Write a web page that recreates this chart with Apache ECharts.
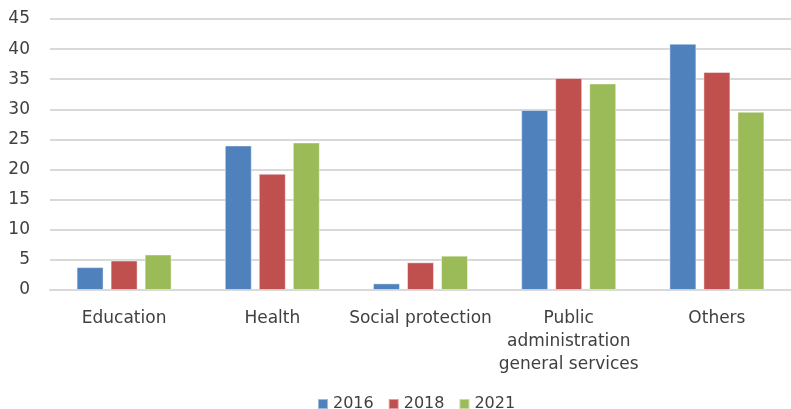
<!DOCTYPE html>
<html>
<head>
<meta charset="utf-8">
<script src="https://cdn.jsdelivr.net/npm/echarts@6/dist/echarts.min.js"></script>
<style>
  html, body { margin: 0; padding: 0; background: #fff; }
  #chart { width: 791px; height: 409px; }
</style>
</head>
<body>
<div id="chart"></div>
<script>
// Spending shares by function (%)
const categories = ['Education', 'Health', 'Social protection', 'Public\nadministration\ngeneral services', 'Others'];
const years = ['2016', '2018', '2021'];
const values2016 = [3.8, 24.0, 1.1, 29.9, 40.9];
const values2018 = [4.9, 19.3, 4.6, 35.2, 36.2];
const values2021 = [5.9, 24.5, 5.7, 34.3, 29.6];
const yTicks = { min: 0, max: 45, interval: 5 };
const colors = ['#4F81BD', '#C0504D', '#9BBB59'];

const font = 'DejaVu Sans';
const textColor = '#404040';

const chart = echarts.init(document.getElementById('chart'), null, { renderer: 'canvas' });

function barSeries(name, data, color) {
  return {
    name: name,
    type: 'bar',
    data: data,
    barWidth: 27,
    barGap: '26%',
    itemStyle: { color: color, borderColor: 'rgba(255,255,255,0.45)', borderWidth: 1 }
  };
}

chart.setOption({
  animation: false,
  textStyle: { fontFamily: font },
  color: colors,
  grid: { left: 50, top: 19, width: 750, height: 271 },
  xAxis: {
    type: 'category',
    data: categories,
    axisTick: { show: false },
    axisLine: { lineStyle: { color: '#d9d9d9', width: 2 } },
    axisLabel: {
      interval: 0,
      margin: 17,
      color: textColor,
      fontSize: 17,
      lineHeight: 23,
      fontFamily: font
    }
  },
  yAxis: {
    type: 'value',
    min: yTicks.min,
    max: yTicks.max,
    interval: yTicks.interval,
    axisLine: { show: false },
    axisTick: { show: false },
    splitLine: { lineStyle: { color: '#d9d9d9', width: 2 } },
    axisLabel: { color: textColor, fontSize: 17, margin: 20, fontFamily: font }
  },
  legend: {
    data: years,
    left: 312,
    top: 391,
    itemWidth: 10,
    itemHeight: 10,
    itemGap: 14,
    icon: 'rect',
    textStyle: { color: textColor, fontSize: 16, fontFamily: font }
  },
  series: [
    barSeries(years[0], values2016, colors[0]),
    barSeries(years[1], values2018, colors[1]),
    barSeries(years[2], values2021, colors[2])
  ]
});
</script>
</body>
</html>
